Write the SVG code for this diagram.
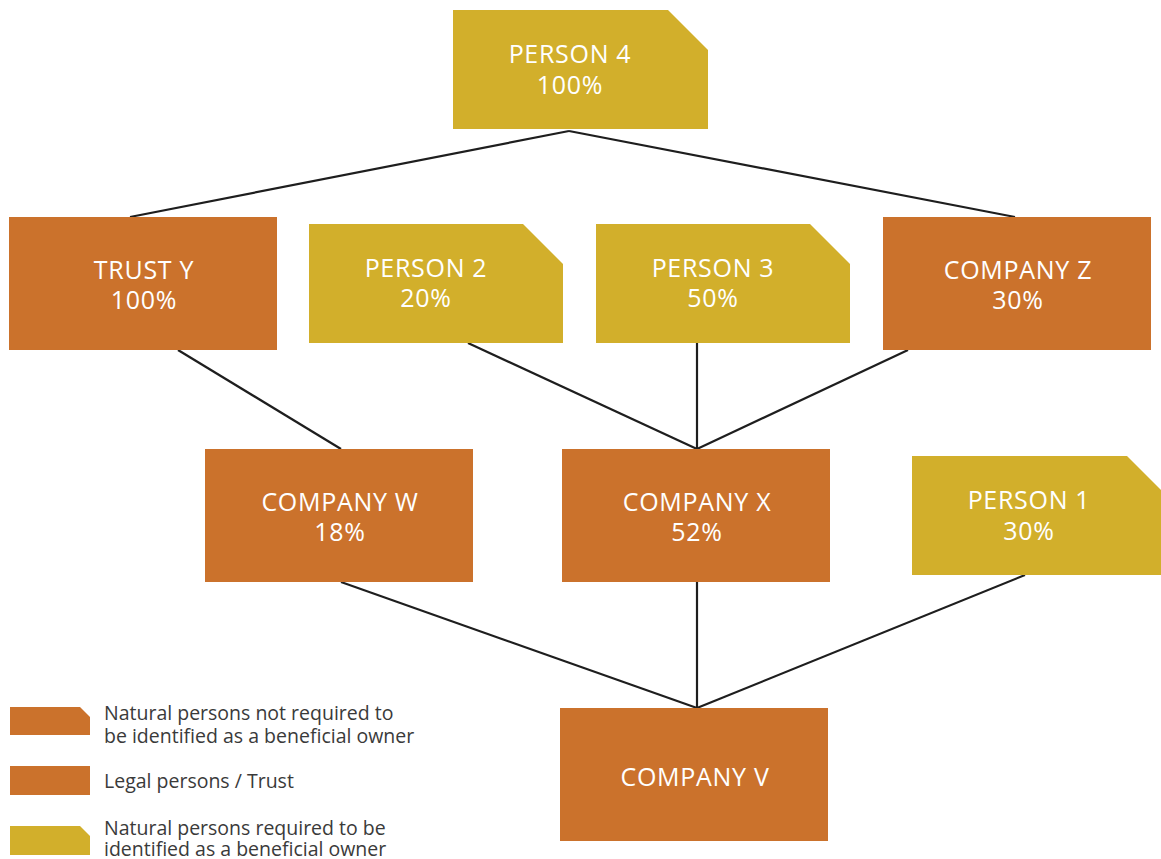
<svg xmlns="http://www.w3.org/2000/svg" width="1161" height="859" viewBox="0 0 1161 859">
<style>
.org{fill:#CB722C}
.yel{fill:#D2AF2B}
.lbl{font-family:"Open Sans",Lato,"Liberation Sans",sans-serif;font-size:25px;letter-spacing:0.7px;fill:#fff;text-anchor:middle}
.leg{font-family:"Open Sans",Lato,"Liberation Sans",sans-serif;font-size:19.5px;fill:#3a3a3a}
.ln{stroke:#1e1e1e;stroke-width:2.2;fill:none}
</style>
<rect width="1161" height="859" fill="#fff"/>
<g id="connectors">
<line class="ln" x1="569" y1="131" x2="130" y2="217"/>
<line class="ln" x1="569" y1="131" x2="1015" y2="217"/>
<line class="ln" x1="178" y1="350" x2="341" y2="449"/>
<line class="ln" x1="468" y1="343" x2="697" y2="449"/>
<line class="ln" x1="697" y1="343" x2="697" y2="449"/>
<line class="ln" x1="908" y1="350" x2="697" y2="449"/>
<line class="ln" x1="341" y1="582" x2="697" y2="708"/>
<line class="ln" x1="697" y1="582" x2="697" y2="708"/>
<line class="ln" x1="1025" y1="575" x2="697" y2="708"/>
</g>
<g id="person4"><path class="yel" d="M453,10 H668 L708,50 V129 H453 Z"/><text class="lbl"><tspan x="570" y="63">PERSON 4</tspan><tspan x="570" y="94">100%</tspan></text></g>
<g id="trustY"><rect class="org" x="9" y="217" width="268" height="133"/><text class="lbl"><tspan x="144" y="279">TRUST Y</tspan><tspan x="144" y="309">100%</tspan></text></g>
<g id="person2"><path class="yel" d="M309,224 H523 L563,264 V343 H309 Z"/><text class="lbl"><tspan x="426" y="277">PERSON 2</tspan><tspan x="426" y="307">20%</tspan></text></g>
<g id="person3"><path class="yel" d="M596,224 H810 L850,264 V343 H596 Z"/><text class="lbl"><tspan x="713" y="277">PERSON 3</tspan><tspan x="713" y="307">50%</tspan></text></g>
<g id="companyZ"><rect class="org" x="883" y="217" width="268" height="133"/><text class="lbl"><tspan x="1018" y="279">COMPANY Z</tspan><tspan x="1018" y="309">30%</tspan></text></g>
<g id="companyW"><rect class="org" x="205" y="449" width="268" height="133"/><text class="lbl"><tspan x="340" y="511">COMPANY W</tspan><tspan x="340" y="541">18%</tspan></text></g>
<g id="companyX"><rect class="org" x="562" y="449" width="268" height="133"/><text class="lbl"><tspan x="697" y="511">COMPANY X</tspan><tspan x="697" y="541">52%</tspan></text></g>
<g id="person1"><path class="yel" d="M912,456 H1127 L1167,496 V575 H912 Z"/><text class="lbl"><tspan x="1029" y="509">PERSON 1</tspan><tspan x="1029" y="540">30%</tspan></text></g>
<g id="companyV"><rect class="org" x="560" y="708" width="268" height="133"/><text class="lbl" x="695" y="786">COMPANY V</text></g>
<g id="legend">
<path class="org" d="M10,707 H80 L90,717 V735 H10 Z"/>
<text class="leg"><tspan x="104" y="720">Natural persons not required to</tspan><tspan x="104" y="743">be identified as a beneficial owner</tspan></text>
<rect class="org" x="10" y="766" width="80" height="29"/>
<text class="leg" x="104" y="788">Legal persons / Trust</text>
<path class="yel" d="M10,826 H80 L90,836 V855 H10 Z"/>
<text class="leg"><tspan x="104" y="835">Natural persons required to be</tspan><tspan x="104" y="856">identified as a beneficial owner</tspan></text>
</g>
</svg>
